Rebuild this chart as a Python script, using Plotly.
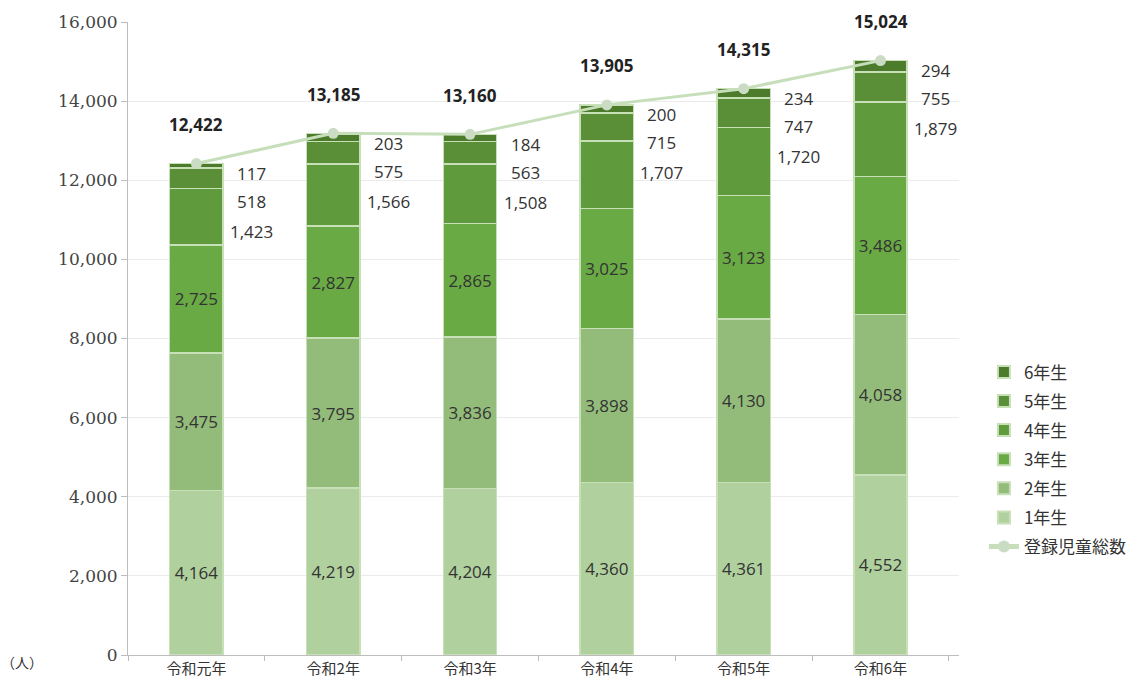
import plotly.graph_objects as go

years = ["令和元年", "令和2年", "令和3年", "令和4年", "令和5年", "令和6年"]
grade1 = [4164, 4219, 4204, 4360, 4361, 4552]
grade2 = [3475, 3795, 3836, 3898, 4130, 4058]
grade3 = [2725, 2827, 2865, 3025, 3123, 3486]
grade4 = [1423, 1566, 1508, 1707, 1720, 1879]
grade5 = [518, 575, 563, 715, 747, 755]
grade6 = [117, 203, 184, 200, 234, 294]
totals = [12422, 13185, 13160, 13905, 14315, 15024]

grades = [
    ("1年生", grade1, "#b0d09e"),
    ("2年生", grade2, "#93bc7b"),
    ("3年生", grade3, "#6aaa45"),
    ("4年生", grade4, "#5f9b3c"),
    ("5年生", grade5, "#5a8f37"),
    ("6年生", grade6, "#4b7b2b"),
]

LABEL_FONT = dict(family="Open Sans, Lato, sans-serif", size=17, color="#333333")

fig = go.Figure()
for i, (name, vals, col) in enumerate(grades):
    inside = i < 3
    fig.add_trace(go.Bar(
        x=years, y=vals, name=name,
        marker=dict(color=col, line=dict(color="#c8e0b8", width=1.5)),
        width=0.39,
        text=[f"{v:,}" for v in vals] if inside else None,
        textposition="inside" if inside else "none",
        insidetextanchor="middle",
        textfont=LABEL_FONT,
        legendrank=10 - i,
        legendgroup=name,
    ))

fig.add_trace(go.Scatter(
    x=years, y=totals, name="登録児童総数", mode="lines+markers",
    line=dict(color="#c6dfba", width=3),
    marker=dict(color="#cbdcc4", size=11),
    legendrank=20, legendgroup="total",
))

# side labels for the upper grades, stacked down from each bar top
side = [(grade6, -10), (grade5, -38), (grade4, -68)]
for vals, shift in side:
    for x, v, t in zip(years, vals, totals):
        fig.add_annotation(x=x, y=t, text=f"{v:,}", showarrow=False,
                           xshift=55, yshift=shift, font=LABEL_FONT)

# totals above each bar
for x, t in zip(years, totals):
    fig.add_annotation(x=x, y=t, text=f"<b>{t:,}</b>", showarrow=False,
                       yshift=39, font=dict(family="Open Sans, Lato, sans-serif", size=17, color="#222222"))

fig.add_annotation(xref="paper", yref="paper", x=-0.1, y=-0.03, text="（人）",
                   showarrow=False, xanchor="right",
                   font=dict(family="Noto Sans CJK JP", size=14, color="#333333"))

fig.update_layout(
    barmode="stack",
    width=1147, height=686,
    margin=dict(l=128, r=188, t=22, b=31, autoexpand=False),
    plot_bgcolor="white", paper_bgcolor="white",
    showlegend=True,
    legend=dict(x=1.03, y=0.475, xanchor="left", yanchor="top",
                traceorder="grouped",
                font=dict(family="Noto Sans CJK JP", size=17, color="#333333"),
                tracegroupgap=4, itemsizing="constant"),
    yaxis=dict(range=[0, 16000], dtick=2000, tickformat=",", automargin=False,
               showgrid=True, gridcolor="#ebebeb", gridwidth=1,
               showline=True, linecolor="#bdbdbd", ticks="outside", ticklen=6,
               tickcolor="#bdbdbd", zeroline=False,
               tickfont=dict(family="DejaVu Serif, Liberation Serif, serif", size=17, color="#444444")),
    xaxis=dict(showline=True, linecolor="#bdbdbd", ticks="outside", ticklen=5,
               tickcolor="#bdbdbd", tickson="boundaries", automargin=False,
               tickfont=dict(family="Noto Sans CJK JP", size=15, color="#333333")),
)

fig.write_html("out.html")
